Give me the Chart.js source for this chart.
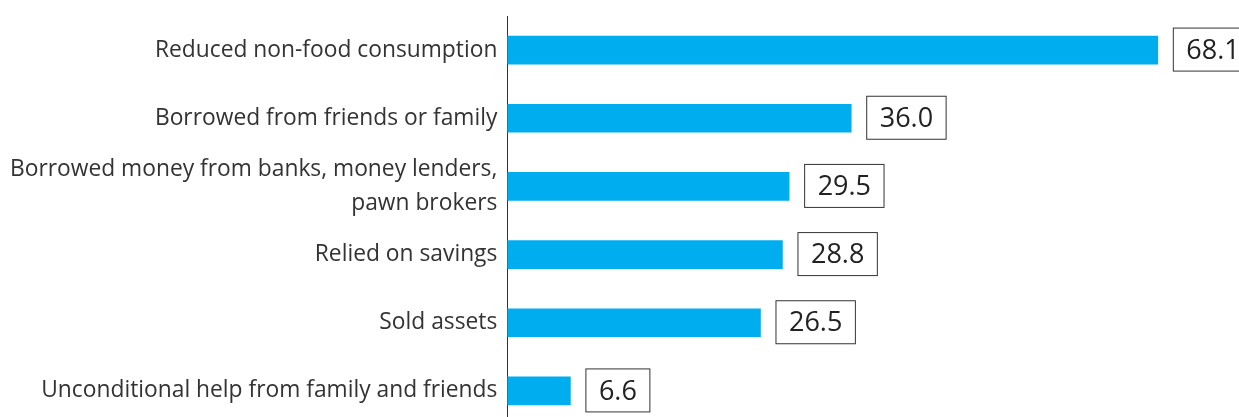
<!DOCTYPE html>
<html>
<head>
<meta charset="utf-8">
<script src="https://cdn.jsdelivr.net/npm/chart.js@4"></script>
<style>
  html, body { margin: 0; padding: 0; background: #fff; overflow: hidden; }
  #wrap { position: relative; width: 1239px; height: 425px; }
</style>
</head>
<body>
<div id="wrap"><canvas id="coping"></canvas></div>
<script>
// coping strategies, share of households (%)
var categories = [
    'Reduced non-food consumption',
    'Borrowed from friends or family',
    ['Borrowed money from banks, money lenders,', 'pawn brokers'],
    'Relied on savings',
    'Sold assets',
    'Unconditional help from family and friends'
];
var values = [68.1, 36.0, 29.5, 28.8, 26.5, 6.6];
var labels = ['68.1', '36.0', '29.5', '28.8', '26.5', '6.6'];

// boxed value labels next to each bar
var boxLabels = {
    id: 'boxLabels',
    afterDatasetsDraw: function (chart) {
        var ctx = chart.ctx;
        var meta = chart.getDatasetMeta(0);
        ctx.save();
        ctx.font = '27px "Open Sans", sans-serif';
        ctx.textBaseline = 'middle';
        ctx.textAlign = 'center';
        meta.data.forEach(function (bar, i) {
            var txt = labels[i];
            var w = ctx.measureText(txt).width + 26;
            var h = 43;
            var x = bar.x + 15;
            var y = bar.y - h / 2 - 1;
            ctx.fillStyle = '#fff';
            ctx.fillRect(x, y, w, h);
            ctx.strokeStyle = '#333';
            ctx.lineWidth = 1;
            ctx.strokeRect(x + 0.5, y + 0.5, w, h);
            ctx.fillStyle = '#222';
            ctx.fillText(txt, x + w / 2 + 0.5, bar.y + 1);
        });
        ctx.restore();
    }
};

var ctx = document.getElementById('coping').getContext('2d');
var chart = new Chart(ctx, {
    type: 'bar',
    data: {
        labels: categories,
        datasets: [{
            data: values,
            backgroundColor: '#00AEEF',
            borderWidth: 0,
            barThickness: 28
        }]
    },
    options: {
        indexAxis: 'y',
        responsive: true,
        maintainAspectRatio: false,
        animation: false,
        layout: { padding: { top: 16, right: 0, bottom: 0, left: 0 } },
        plugins: {
            legend: { display: false },
            tooltip: { enabled: false }
        },
        scales: {
            x: {
                display: false,
                min: 0,
                max: 76.6
            },
            y: {
                afterFit: function (scale) {
                    scale.paddingTop = 0;
                    scale.paddingBottom = 0;
                },
                grid: { display: false, drawTicks: false },
                border: { display: true, color: '#333', width: 1 },
                ticks: {
                    autoSkip: false,
                    color: '#333',
                    padding: 10,
                    font: { family: '"Open Sans", sans-serif', size: 22.8, lineHeight: 1.46 }
                }
            }
        }
    },
    plugins: [boxLabels]
});
</script>
</body>
</html>
